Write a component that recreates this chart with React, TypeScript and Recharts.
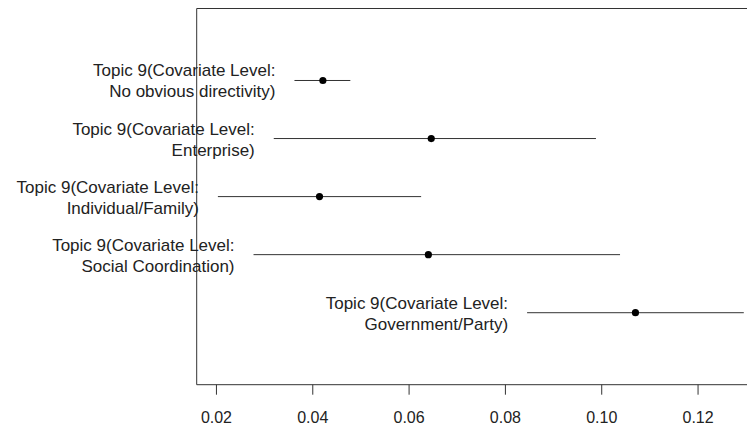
import React from "react"
import { ErrorBar, ReferenceArea, Scatter, ScatterChart, XAxis, YAxis } from "recharts"

// covariate levels, top to bottom
const levels = ["No obvious directivity", "Enterprise", "Individual/Family", "Social Coordination", "Government/Party"]
const positions = [5, 4, 3, 2, 1]
const estimates = [0.0421, 0.0646, 0.0414, 0.064, 0.107]
const lower = [0.0362, 0.0319, 0.0203, 0.0277, 0.0845]
const upper = [0.0478, 0.0988, 0.0625, 0.1038, 0.1295]
const xTicks = [0.02, 0.04, 0.06, 0.08, 0.1, 0.12]
const topicPrefix = "Topic 9(Covariate Level:"

const xDomain = [0.0159, 0.1339]
const yDomain = [-0.24, 6.24]

const pointData = levels.map((lvl, i) => ({
  x: estimates[i],
  y: positions[i],
  err: [estimates[i] - lower[i], upper[i] - estimates[i]],
}))

const labelData = levels.map((lvl, i) => ({
  x: lower[i],
  y: positions[i],
  line1: topicPrefix,
  line2: lvl + ")",
}))

const font = "'Liberation Sans', Arial, Helvetica, sans-serif"
const ink = "#222"

const LabelShape = (props: any) => {
  const { cx, cy, payload } = props
  if (cx == null || cy == null) return null
  return (
    <text x={cx - 19} textAnchor="end" fontSize={17} fontFamily={font} fill={ink}>
      <tspan x={cx - 19} y={cy - 4}>{payload.line1}</tspan>
      <tspan x={cx - 19} y={cy + 17}>{payload.line2}</tspan>
    </text>
  )
}

const Dot = (props: any) => {
  const { cx, cy } = props
  if (cx == null || cy == null) return null
  return <circle cx={cx} cy={cy} r={3.6} fill="#000" />
}

export default function App() {
  return (
    <div style={{ position: "absolute", left: 0, top: 0, width: 747, height: 426, overflow: "hidden", background: "#fff" }}>
      <ScatterChart width={780} height={426} margin={{ top: 8.5, right: 15, bottom: 0, left: 196.7 }}>
        <XAxis
          type="number"
          dataKey="x"
          domain={xDomain}
          ticks={xTicks}
          tickFormatter={(v: number) => v.toFixed(2)}
          height={41.3}
          tickSize={10}
          tickMargin={17}
          axisLine={false}
          tickLine={{ stroke: "#333" }}
          tick={{ fontSize: 16, fontFamily: font, fill: ink }}
        />
        <YAxis type="number" dataKey="y" domain={yDomain} width={0} hide />
        <ReferenceArea
          x1={xDomain[0]}
          x2={xDomain[1]}
          y1={yDomain[0]}
          y2={yDomain[1]}
          fill="none"
          fillOpacity={0}
          stroke="#333"
          strokeWidth={1}
        />
        <Scatter data={labelData} shape={LabelShape} isAnimationActive={false} />
        <Scatter data={pointData} shape={Dot} isAnimationActive={false}>
          <ErrorBar dataKey="err" direction="x" width={0} stroke="#333" strokeWidth={1} />
        </Scatter>
      </ScatterChart>
    </div>
  )
}
